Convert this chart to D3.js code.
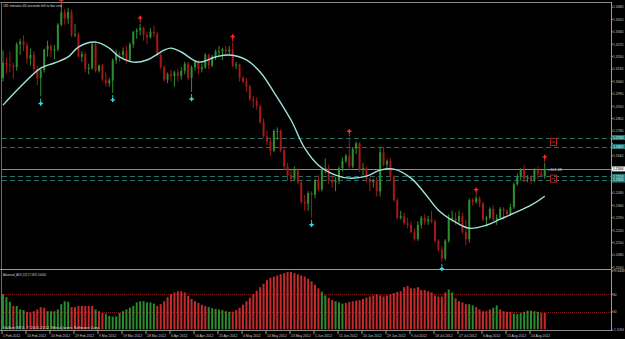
<!DOCTYPE html>
<html lang="en">
<head>
<meta charset="utf-8">
<title>EURUSD Daily - Advanced ADX</title>
<script src="https://cdn.jsdelivr.net/npm/d3@7"></script>
<style>
  body { margin: 0; background: #000; }
  text { font-family: "Liberation Sans", Arial, sans-serif; }
</style>
</head>
<body>
<script>
// candles (bar index 0 = 1 Feb 2012)
var open  = [1.3080,1.3165,1.3155,1.3150,1.3140,1.3270,1.3285,1.3265,1.3190,1.3210,1.3130,1.3080,1.3125,1.3240,1.3260,1.3235,1.3240,1.3380,1.3450,1.3415,1.3450,1.3320,1.3325,1.3200,1.3215,1.3130,1.3135,1.3270,1.3120,1.3150,1.3070,1.3050,1.3065,1.3180,1.3220,1.3210,1.3230,1.3180,1.3270,1.3340,1.3350,1.3360,1.3320,1.3310,1.3340,1.3330,1.3210,1.3140,1.3070,1.3100,1.3090,1.3110,1.3090,1.3120,1.3160,1.3080,1.3140,1.3170,1.3130,1.3140,1.3210,1.3150,1.3200,1.3230,1.3230,1.3240,1.3230,1.3240,1.3150,1.3155,1.3080,1.3060,1.3030,1.2960,1.2950,1.2920,1.2830,1.2750,1.2720,1.2670,1.2780,1.2780,1.2670,1.2580,1.2530,1.2510,1.2560,1.2490,1.2380,1.2370,1.2430,1.2420,1.2500,1.2450,1.2560,1.2570,1.2500,1.2490,1.2500,1.2570,1.2610,1.2640,1.2580,1.2680,1.2710,1.2560,1.2570,1.2510,1.2490,1.2500,1.2440,1.2660,1.2590,1.2610,1.2520,1.2390,1.2290,1.2300,1.2260,1.2250,1.2210,1.2170,1.2250,1.2290,1.2270,1.2280,1.2270,1.2160,1.2110,1.2060,1.2160,1.2290,1.2290,1.2270,1.2300,1.2210,1.2170,1.2390,1.2380,1.2400,1.2370,1.2280,1.2290,1.2340,1.2280,1.2290,1.2340,1.2330,1.2310,1.2350,1.2480,1.2520,1.2560,1.2510,1.2520,1.2500,1.2560,1.2540,1.2525];
var high  = [1.3235,1.3195,1.3230,1.3165,1.3280,1.3300,1.3320,1.3280,1.3245,1.3230,1.3150,1.3130,1.3245,1.3290,1.3270,1.3265,1.3390,1.3486,1.3470,1.3475,1.3465,1.3385,1.3335,1.3230,1.3225,1.3160,1.3280,1.3290,1.3155,1.3160,1.3110,1.3080,1.3190,1.3240,1.3225,1.3250,1.3260,1.3280,1.3345,1.3360,1.3385,1.3370,1.3340,1.3360,1.3375,1.3340,1.3220,1.3150,1.3110,1.3125,1.3120,1.3130,1.3140,1.3170,1.3170,1.3150,1.3180,1.3180,1.3160,1.3220,1.3215,1.3210,1.3240,1.3260,1.3250,1.3260,1.3260,1.3280,1.3170,1.3160,1.3090,1.3080,1.3040,1.2980,1.2970,1.2930,1.2850,1.2780,1.2740,1.2790,1.2800,1.2790,1.2690,1.2600,1.2560,1.2580,1.2570,1.2500,1.2420,1.2440,1.2440,1.2510,1.2530,1.2570,1.2625,1.2590,1.2530,1.2520,1.2580,1.2630,1.2650,1.2745,1.2690,1.2720,1.2715,1.2600,1.2580,1.2520,1.2510,1.2520,1.2690,1.2690,1.2620,1.2630,1.2530,1.2400,1.2330,1.2320,1.2290,1.2270,1.2230,1.2270,1.2300,1.2310,1.2300,1.2330,1.2280,1.2170,1.2130,1.2170,1.2310,1.2330,1.2320,1.2330,1.2320,1.2280,1.2400,1.2400,1.2415,1.2410,1.2380,1.2300,1.2350,1.2360,1.2310,1.2350,1.2350,1.2340,1.2370,1.2490,1.2540,1.2570,1.2590,1.2530,1.2530,1.2570,1.2580,1.2560,1.2600];
var low   = [1.3060,1.3105,1.3110,1.3075,1.3120,1.3210,1.3230,1.3160,1.3150,1.3115,1.3040,1.2975,1.3110,1.3200,1.3195,1.3185,1.3230,1.3370,1.3380,1.3385,1.3310,1.3310,1.3195,1.3170,1.3110,1.3100,1.3125,1.3110,1.3110,1.3060,1.3030,1.3030,1.2995,1.3160,1.3170,1.3190,1.3160,1.3170,1.3250,1.3300,1.3320,1.3290,1.3270,1.3300,1.3310,1.3200,1.3130,1.3060,1.3050,1.3060,1.3030,1.3060,1.3070,1.3100,1.3070,1.3000,1.3120,1.3100,1.3110,1.3130,1.3130,1.3140,1.3180,1.3200,1.3180,1.3200,1.3210,1.3140,1.3130,1.3060,1.3050,1.3000,1.2950,1.2910,1.2900,1.2820,1.2740,1.2700,1.2640,1.2660,1.2730,1.2660,1.2560,1.2500,1.2490,1.2500,1.2480,1.2370,1.2330,1.2330,1.2290,1.2400,1.2440,1.2440,1.2540,1.2480,1.2460,1.2440,1.2480,1.2550,1.2600,1.2560,1.2570,1.2650,1.2550,1.2530,1.2490,1.2440,1.2460,1.2410,1.2410,1.2580,1.2560,1.2500,1.2380,1.2280,1.2280,1.2250,1.2230,1.2200,1.2160,1.2160,1.2230,1.2250,1.2250,1.2260,1.2150,1.2100,1.2042,1.2050,1.2150,1.2270,1.2250,1.2260,1.2200,1.2135,1.2150,1.2360,1.2370,1.2350,1.2270,1.2240,1.2280,1.2270,1.2250,1.2280,1.2280,1.2300,1.2300,1.2340,1.2470,1.2500,1.2490,1.2490,1.2480,1.2490,1.2510,1.2520,1.2510];
var close = [1.3165,1.3155,1.3150,1.3140,1.3270,1.3285,1.3265,1.3190,1.3210,1.3130,1.3080,1.3125,1.3240,1.3260,1.3235,1.3240,1.3380,1.3450,1.3415,1.3450,1.3320,1.3325,1.3200,1.3215,1.3130,1.3135,1.3270,1.3120,1.3150,1.3070,1.3050,1.3065,1.3180,1.3220,1.3210,1.3230,1.3180,1.3270,1.3340,1.3350,1.3360,1.3320,1.3310,1.3340,1.3330,1.3210,1.3140,1.3070,1.3100,1.3090,1.3110,1.3090,1.3120,1.3160,1.3080,1.3140,1.3170,1.3130,1.3140,1.3210,1.3150,1.3200,1.3230,1.3230,1.3240,1.3230,1.3240,1.3150,1.3155,1.3080,1.3060,1.3030,1.2960,1.2950,1.2920,1.2830,1.2750,1.2720,1.2670,1.2780,1.2780,1.2670,1.2580,1.2530,1.2510,1.2560,1.2490,1.2380,1.2370,1.2430,1.2420,1.2500,1.2450,1.2560,1.2570,1.2500,1.2490,1.2500,1.2570,1.2610,1.2640,1.2580,1.2680,1.2710,1.2560,1.2570,1.2510,1.2490,1.2500,1.2440,1.2660,1.2590,1.2610,1.2520,1.2390,1.2290,1.2300,1.2260,1.2250,1.2210,1.2170,1.2250,1.2290,1.2270,1.2280,1.2270,1.2160,1.2110,1.2060,1.2160,1.2290,1.2290,1.2270,1.2300,1.2210,1.2170,1.2390,1.2380,1.2400,1.2370,1.2280,1.2290,1.2340,1.2280,1.2290,1.2340,1.2330,1.2310,1.2350,1.2480,1.2520,1.2560,1.2510,1.2520,1.2500,1.2560,1.2540,1.2525,1.2566];

// smooth moving average line (bar index, price)
var maBar   = [0, 5, 11, 15, 19, 22, 27, 31, 34, 38, 42, 47, 49, 52, 57, 62, 66, 71, 75, 79, 84, 88, 92, 97, 101, 106, 110, 114, 119, 123, 127, 132, 136, 141, 145, 149, 154, 158];
var maPrice = [1.2926,1.3028,1.3135,1.3164,1.3198,1.3254,1.3282,1.3248,1.3198,1.3169,1.3181,1.3237,1.3248,1.3226,1.3169,1.3198,1.3209,1.3181,1.3113,1.3000,1.2842,1.2683,1.2587,1.2531,1.2514,1.2525,1.2559,1.2565,1.2514,1.2429,1.2333,1.2265,1.2231,1.2248,1.2282,1.2316,1.2361,1.2412];

// fractal arrows
var upArrowBars   = [11, 32, 55, 90, 128];
var downArrowBars = [17, 40, 67, 101, 138, 158];

// Advanced ADX histogram
var adx = [60,55,47,40,40,34,33,30,29,31,34,38,37,31,31,31,34,43,48,47,38,38,40,40,40,40,40,34,31,28,27,23,22,22,28,31,34,37,40,46,48,48,46,46,44,40,43,48,55,60,63,65,65,63,57,52,48,
           45,42,40,38,36,35,34,33,31,30,30,33,37,42,48,54,60,66,72,78,84,88,90,92,94,96,98,98,96,94,92,90,86,82,76,70,64,58,54,50,48,46,44,45,47,48,49,50,52,54,56,58,60,58,56,58,60,62,64,
           65,72,74,70,70,72,67,67,65,63,58,56,56,63,68,63,53,48,46,43,43,41,38,34,31,31,34,37,41,34,31,30,30,27,26,28,30,32,32,31,30,28,28];
var adxDir = "gggrgggrrrrrrgggggggrrrrrrrgrrgggggggggggggggrrrrrrrrrrrr" +
             "rrrgggggggrrrrrrrrrrrrrrrrrrrrrrrrrrggrrgggrrrrrrrrrrrrrr" +
             "rrrrrrrrrrrrrrrrggrrrrggrrrrrggrrrrgggggggg";
var adxLevels = [60, 30];

// axis labels
var priceTicks = [1.3480,1.3410,1.3340,1.3270,1.3200,1.3130,1.3060,1.2990,1.2920,1.2850,1.2780,1.2710,1.2640,1.2570,1.2500,1.2430,1.2360,1.2290,1.2220,1.2150,1.2080,1.2010];
var dateLabels = ["1 Feb 2012","10 Feb 2012","20 Feb 2012","29 Feb 2012","9 Mar 2012","19 Mar 2012","28 Mar 2012","6 Apr 2012","16 Apr 2012","25 Apr 2012","4 May 2012","14 May 2012","23 May 2012","1 Jun 2012","11 Jun 2012","20 Jun 2012","29 Jun 2012","9 Jul 2012","18 Jul 2012","27 Jul 2012","6 Aug 2012","15 Aug 2012","24 Aug 2012"];
var dateStep = 7;

// horizontal levels
var dashLevels = [1.2743, 1.2692, 1.2524, 1.2503];
var lastPrice = 1.2566;
var boxLevels = [1.2718, 1.2511];

var w = 625, h = 339;
var svg = d3.select("body").append("svg")
  .attr("width", w).attr("height", h)
  .style("background", "#000")
  .style("display", "block");

var x = d3.scaleLinear().domain([0, 158]).range([3, 3 + 158 * 24 / 7]);
var y = d3.scaleLinear().domain([1.2080, 1.3480]).range([255, 7]);
var ya = d3.scaleLinear().domain([-1.1094, 99.6448]).range([330, 271]);

var green = "#2f8f2f", red = "#a31818";
var fs = 3.4;

// frame
svg.append("line").attr("x1", 0).attr("x2", 611).attr("y1", 2.5).attr("y2", 2.5).attr("stroke", "#8a8a8a");
svg.append("line").attr("x1", 1.5).attr("x2", 1.5).attr("y1", 2).attr("y2", 331).attr("stroke", "#6a6a6a");
svg.append("line").attr("x1", 0).attr("x2", 611).attr("y1", 269.5).attr("y2", 269.5).attr("stroke", "#9a9a9a");
svg.append("line").attr("x1", 0).attr("x2", 611).attr("y1", 330.5).attr("y2", 330.5).attr("stroke", "#8a8a8a");
svg.append("line").attr("x1", 611.5).attr("x2", 611.5).attr("y1", 2).attr("y2", 331).attr("stroke", "#9a9a9a");

// dashed levels and last price line
svg.selectAll(".lvl").data(dashLevels).enter().append("line")
  .attr("x1", 2).attr("x2", 611)
  .attr("y1", function(d) { return Math.round(y(d)) + 0.5; })
  .attr("y2", function(d) { return Math.round(y(d)) + 0.5; })
  .attr("stroke", "#2c6b66").attr("stroke-dasharray", "5,3");
svg.append("line").attr("x1", 2).attr("x2", 611)
  .attr("y1", Math.round(y(lastPrice)) + 0.5).attr("y2", Math.round(y(lastPrice)) + 0.5)
  .attr("stroke", "#8c8c8c");

// ADX dotted levels
svg.selectAll(".alvl").data(adxLevels).enter().append("line")
  .attr("x1", 2).attr("x2", 611)
  .attr("y1", function(d) { return Math.round(ya(d)) + 0.5; })
  .attr("y2", function(d) { return Math.round(ya(d)) + 0.5; })
  .attr("stroke", "#7a1c1c").attr("stroke-dasharray", "1,1");

// candles
var idx = d3.range(open.length);
var c = svg.append("g").selectAll("g").data(idx).enter().append("g");
c.append("line")
  .attr("x1", function(i) { return x(i); }).attr("x2", function(i) { return x(i); })
  .attr("y1", function(i) { return y(high[i]); }).attr("y2", function(i) { return y(low[i]); })
  .attr("stroke", function(i) { return close[i] >= open[i] ? green : red; })
  .attr("stroke-width", 1);
c.append("rect")
  .attr("x", function(i) { return x(i) - 1; })
  .attr("width", 2)
  .attr("y", function(i) { return y(Math.max(open[i], close[i])); })
  .attr("height", function(i) { return Math.max(1, Math.abs(y(open[i]) - y(close[i]))); })
  .attr("fill", function(i) { return close[i] >= open[i] ? green : red; });

// moving average
var ma = d3.line()
  .x(function(d, i) { return x(maBar[i]); })
  .y(function(d) { return y(d); })
  .curve(d3.curveCatmullRom);
svg.append("path").datum(maPrice).attr("d", ma)
  .attr("fill", "none").attr("stroke", "#9fe3dc").attr("stroke-width", 1.4);

// arrows: cross with a stem toward the candle
function arrow(cx, cy, up) {
  var s = up ? -1 : 1;
  return "M" + (cx - 0.7) + "," + (cy - 2.2) + "h1.4v1.5h1.5v1.4h-1.5v1.5h-1.4v-1.5h-1.5v-1.4h1.5z" +
         "M" + (cx - 0.4) + "," + (cy + s * 2) + "h0.8v" + (s * 3) + "h-0.8z";
}
svg.selectAll(".up").data(upArrowBars).enter().append("path")
  .attr("d", function(i) { return arrow(x(i), y(low[i]) + 7, true); })
  .attr("fill", "#33e0e0");
svg.selectAll(".dn").data(downArrowBars).enter().append("path")
  .attr("d", function(i) { return arrow(x(i), y(high[i]) - 6, false); })
  .attr("fill", "#ff2a2a");

// red boxes at right
svg.selectAll(".box").data(boxLevels).enter().append("rect")
  .attr("x", 550.5).attr("width", 6)
  .attr("y", function(d) { return y(d) - 3.5; }).attr("height", 7)
  .attr("fill", "none").attr("stroke", "#b02020");
svg.selectAll(".boxin").data(boxLevels).enter().append("line")
  .attr("x1", 552).attr("x2", 555)
  .attr("y1", function(d) { return y(d); }).attr("y2", function(d) { return y(d); })
  .attr("stroke", "#b02020");

svg.append("text").attr("x", 548).attr("y", 171).text("+101 48")
  .attr("fill", "#d0d0d0").attr("font-size", 3.8);

// ADX histogram
svg.append("g").selectAll("rect").data(adx).enter().append("rect")
  .attr("x", function(d, i) { return x(i) - 1; })
  .attr("width", 2)
  .attr("y", function(d) { return ya(d); })
  .attr("height", function(d) { return ya(0) - ya(d); })
  .attr("fill", function(d, i) { return adxDir[i] === "g" ? "#2e8a2e" : "#c42a2a"; });

// price axis (labels hidden under the level boxes are skipped)
var boxed = dashLevels.concat([lastPrice]);
var shown = priceTicks.filter(function(p) {
  return boxed.every(function(b) { return Math.abs(y(p) - y(b)) > 5; });
});
var pa = svg.append("g");
pa.selectAll("line").data(priceTicks).enter().append("line")
  .attr("x1", 611).attr("x2", 613)
  .attr("y1", function(d) { return y(d); }).attr("y2", function(d) { return y(d); })
  .attr("stroke", "#9a9a9a");
pa.selectAll("text").data(shown).enter().append("text")
  .attr("x", 613).attr("y", function(d) { return y(d) + 1.3; })
  .text(function(d) { return d.toFixed(4); })
  .attr("fill", "#c8c8c8").attr("font-size", fs);

// highlighted level labels
var hl = svg.append("g").selectAll("g").data(dashLevels).enter().append("g");
hl.append("rect").attr("x", 612).attr("width", 13)
  .attr("y", function(d) { return y(d) - 2.5; }).attr("height", 5)
  .attr("fill", "#1f7a78");
hl.append("text").attr("x", 613).attr("y", function(d) { return y(d) + 1.3; })
  .text(function(d) { return d.toFixed(4); })
  .attr("fill", "#e8ffff").attr("font-size", fs);
svg.append("rect").attr("x", 612).attr("width", 13)
  .attr("y", y(lastPrice) - 2.5).attr("height", 5).attr("fill", "#f0f0f0");
svg.append("text").attr("x", 613).attr("y", y(lastPrice) + 1.3)
  .text(lastPrice.toFixed(4)).attr("fill", "#000").attr("font-size", fs);

// ADX axis
var adxLabels = [[99.6448, "99.6448"], [60, "60"], [30, "30"], [-1.1094, "-1.1094"]];
svg.selectAll(".al").data(adxLabels).enter().append("text")
  .attr("x", 613).attr("y", function(d) { return ya(d[0]) + 1.3; })
  .text(function(d) { return d[1]; })
  .attr("fill", "#c8c8c8").attr("font-size", 3.2);
svg.selectAll(".at").data(adxLabels).enter().append("line")
  .attr("x1", 611).attr("x2", 613)
  .attr("y1", function(d) { return ya(d[0]); }).attr("y2", function(d) { return ya(d[0]); })
  .attr("stroke", "#9a9a9a");

// date axis
var da = svg.append("g").selectAll("g").data(dateLabels).enter().append("g");
da.append("line")
  .attr("x1", function(d, k) { return x(k * dateStep) - 1; })
  .attr("x2", function(d, k) { return x(k * dateStep) - 1; })
  .attr("y1", 330).attr("y2", 334).attr("stroke", "#9a9a9a");
da.append("text")
  .attr("x", function(d, k) { return x(k * dateStep); })
  .attr("y", 336.5)
  .text(function(d) { return d; })
  .attr("fill", "#c8c8c8").attr("font-size", 3.4);

// captions
svg.append("text").attr("x", 3).attr("y", 6.5).text("181 minutes 46 seconds left to bar end")
  .attr("fill", "#d8d8d8").attr("font-size", 3.6)
  .attr("textLength", 59).attr("lengthAdjust", "spacingAndGlyphs");
svg.append("text").attr("x", 3).attr("y", 275.5).text("Advanced_ADX (13) 17.5811 0.0000")
  .attr("fill", "#d8d8d8").attr("font-size", 3.6)
  .attr("textLength", 43).attr("lengthAdjust", "spacingAndGlyphs");
svg.append("text").attr("x", 3).attr("y", 328.5).text("Gallant MT4, \u00a9 2001-2012, MetaQuotes Software Corp.")
  .attr("fill", "#d8d8d8").attr("font-size", 3.8)
  .attr("textLength", 97).attr("lengthAdjust", "spacingAndGlyphs");
</script>
</body>
</html>
